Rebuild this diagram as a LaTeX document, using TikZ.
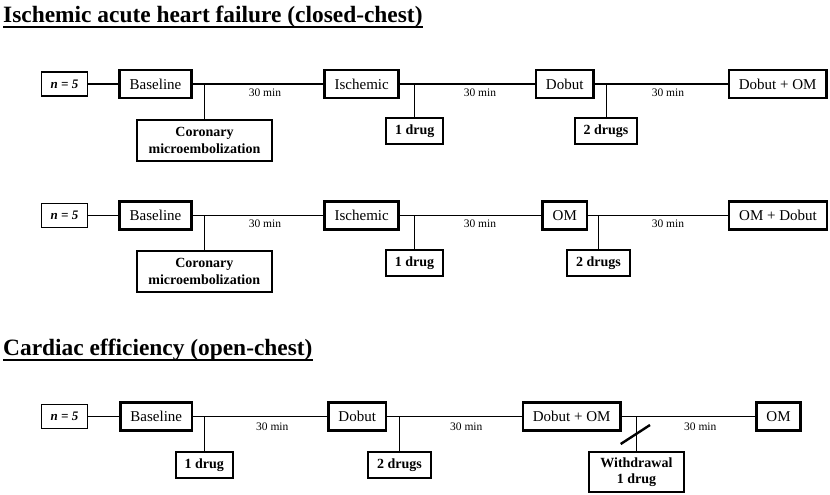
\documentclass[tikz,border=0pt]{standalone}
\usepackage{fontspec}
\setmainfont{Liberation Serif}
\begin{document}
\begin{tikzpicture}[x=1pt,y=-1pt,
  stage/.style={draw,line width=2.6pt,inner xsep=10pt,inner ysep=0pt,minimum height=28pt,font=\fontsize{15}{18}\selectfont},
  nbox/.style={draw,line width=1.2pt,minimum width=46pt,minimum height=24pt,inner sep=0pt,font=\fontsize{13}{15}\selectfont\bfseries\itshape},
  drugbox/.style={draw,line width=1.8pt,inner xsep=9pt,inner ysep=0pt,minimum height=26pt,align=center,font=\fontsize{14}{16.5}\selectfont\bfseries},
  mins/.style={inner sep=0pt,font=\fontsize{11.5}{13}\selectfont},
  title/.style={anchor=base west,inner sep=0pt,font=\fontsize{23.4}{28}\selectfont\bfseries},
  link/.style={line width=1pt}]
\useasboundingbox (0,0) rectangle (830,495);
% closed-chest
\node[title] (t1) at (3,22.3) {Ischemic acute heart failure (closed-chest)};
\draw[line width=1.6pt] ([yshift=-4.5pt]t1.base west) -- ([yshift=-4.5pt]t1.base east);
% first protocol
\node[nbox] (na) at (64.5,84) {n = 5};
\node[stage] (ba) at (155.5,84) {Baseline};
\node[stage] (ia) at (361.7,84) {Ischemic};
\node[stage] (da) at (564.7,84) {Dobut};
\node[stage] (ea) at (777.7,84) {Dobut + OM};
\node[drugbox,minimum width=135pt,minimum height=41pt] (ca) at (204.5,140.5) {Coronary\\microembolization};
\node[drugbox] (oa) at (414.7,131.3) {1 drug};
\node[drugbox] (wa) at (606,131.2) {2 drugs};
\node[mins] (ma) at (265,92.5) {30 min};
\node[mins] (mb) at (480,92.5) {30 min};
\node[mins] (mc) at (668,92.5) {30 min};
\draw[link] (na) -- (ba) -- (ia) -- (da) -- (ea);
\draw[link] (ca) -- (ca |- ba);
\draw[link] (oa) -- (oa |- ia);
\draw[link] (wa) -- (wa |- da);
% second protocol
\node[nbox] (nb) at (64.5,215.5) {n = 5};
\node[stage] (bb) at (155.5,215.5) {Baseline};
\node[stage] (ib) at (361.7,215.5) {Ischemic};
\node[stage] (db) at (564.8,215.5) {OM};
\node[stage] (eb) at (778,215.5) {OM + Dobut};
\node[drugbox,minimum width=135pt,minimum height=41pt] (cb) at (204.3,271.3) {Coronary\\microembolization};
\node[drugbox] (ob) at (414.5,263) {1 drug};
\node[drugbox] (wb) at (598.4,263.3) {2 drugs};
\node[mins] (md) at (265,224) {30 min};
\node[mins] (me) at (480,224) {30 min};
\node[mins] (mf) at (668,224) {30 min};
\draw[link] (nb) -- (bb) -- (ib) -- (db) -- (eb);
\draw[link] (cb) -- (cb |- bb);
\draw[link] (ob) -- (ob |- ib);
\draw[link] (wb) -- (wb |- db);
% open-chest
\node[title] (t2) at (3,355.7) {Cardiac efficiency (open-chest)};
\draw[line width=1.6pt] ([yshift=-4pt]t2.base west) -- ([yshift=-4pt]t2.base east);
\node[nbox] (nc) at (64.5,416.5) {n = 5};
\node[stage] (bc) at (156.3,416.5) {Baseline};
\node[stage] (dc) at (357.2,416.5) {Dobut};
\node[stage] (ec) at (571.7,416.5) {Dobut + OM};
\node[stage] (oc) at (778.5,416.5) {OM};
\node[drugbox] (uc) at (204.3,464.7) {1 drug};
\node[drugbox] (wc) at (399.5,464.7) {2 drugs};
\node[drugbox,minimum width=95pt,minimum height=40pt] (xc) at (636.4,472) {Withdrawal\\1 drug};
\node[mins] (mg) at (272.3,426.5) {30 min};
\node[mins] (mh) at (466.3,426.5) {30 min};
\node[mins] (mi) at (700.3,426.5) {30 min};
\draw[link] (nc) -- (bc) -- (dc) -- (ec) -- (oc);
\draw[link] (uc) -- (uc |- bc);
\draw[link] (wc) -- (wc |- dc);
\draw[link] (xc) -- (xc |- ec);
\draw[line width=2.4pt] (620.7,444) -- (650,425);
\end{tikzpicture}
\end{document}
